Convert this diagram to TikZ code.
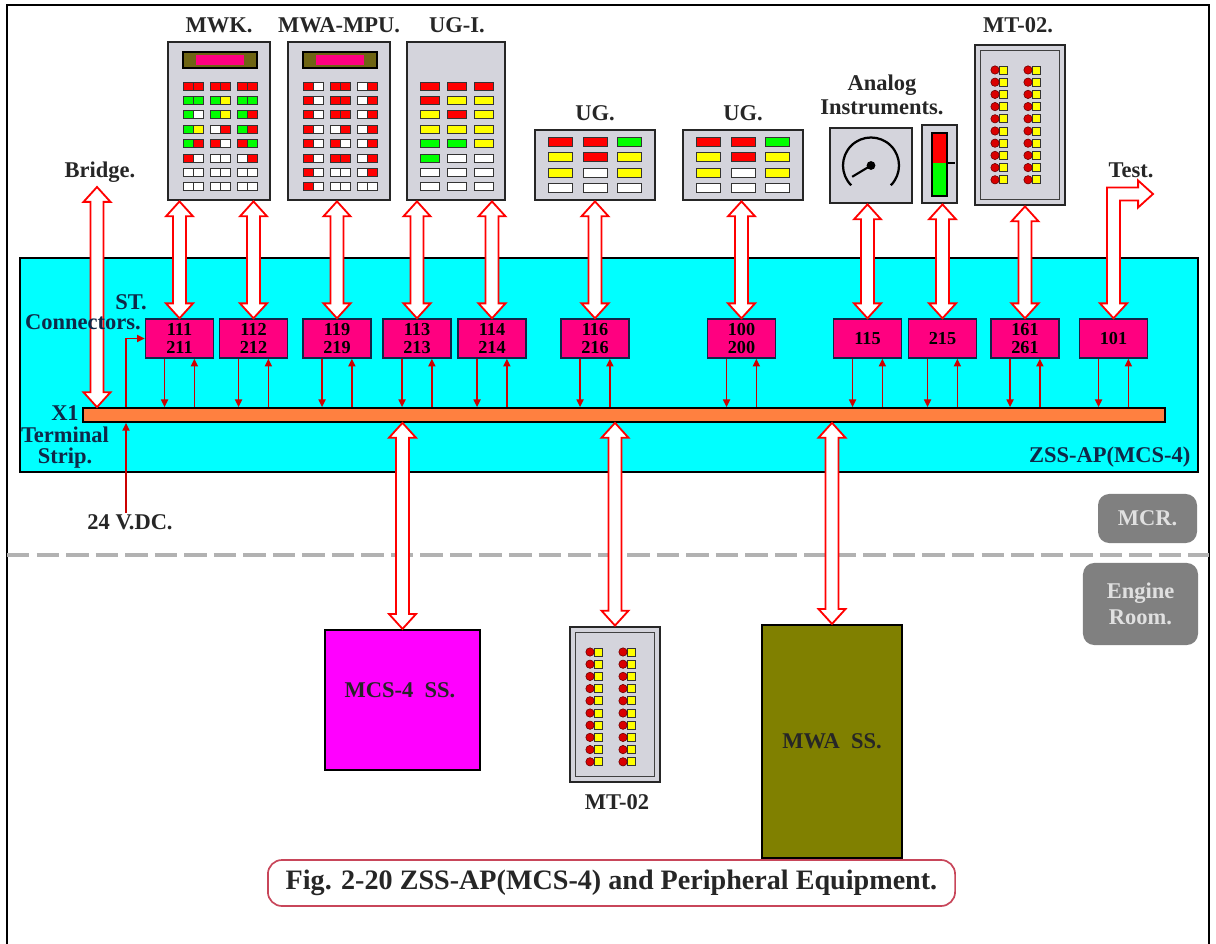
\documentclass[tikz,border=0pt]{standalone}
\usepackage{fontspec}
\setmainfont{Liberation Serif}
\usepackage{xcolor}
\usepackage{tikz}
\usetikzlibrary{calc, arrows.meta}

\definecolor{zsscyan}{RGB}{0,255,255}
\definecolor{stpink}{RGB}{255,0,128}
\definecolor{mcsmagenta}{RGB}{255,0,255}
\definecolor{striporange}{RGB}{255,128,64}
\definecolor{navytext}{RGB}{16,40,72}
\definecolor{olivebox}{RGB}{128,128,0}
\definecolor{dispolive}{RGB}{110,100,20}
\definecolor{roomgray}{RGB}{128,128,128}
\definecolor{panelgray}{RGB}{212,212,220}
\definecolor{capred}{RGB}{200,70,90}
\definecolor{ledR}{RGB}{255,0,0}
\definecolor{ledG}{RGB}{0,255,0}
\definecolor{ledY}{RGB}{255,255,0}
\definecolor{ledW}{RGB}{255,255,255}

\tikzset{
  lbl/.style={font=\bfseries\fontsize{16}{17}\selectfont, text=black!85, inner sep=1pt},
  navylbl/.style={lbl, text=navytext},
  panel/.style={draw=black!85, line width=2pt, fill=panelgray, inner sep=0pt},
  stbox/.style={draw=navytext, line width=1pt, fill=stpink, inner sep=0pt,
    minimum width=1.7cm, minimum height=0.975cm, align=center,
    font=\bfseries\fontsize{13}{13}\selectfont},
  wire/.style={draw=red!80!black, line width=1.2pt, -{Triangle[length=5.5pt,width=5pt]}},
  bus/.style={draw=ledR, fill=white, line width=1.3pt, line join=miter},
  led/.style={draw=black!80, line width=0.5pt},
  room/.style={fill=roomgray, rounded corners=8pt, text=white!88!black, align=center,
    inner sep=0pt, font=\bfseries\fontsize{16}{18}\selectfont},
}

% hollow two-headed bus arrow, upper end first
\newcommand\busarrow[2]{%
  \draw[bus] let \p1=(#1), \p2=(#2) in
    (\x1,\y1) -- (\x1+9.6pt,\y1-10.6pt) -- (\x1+4.6pt,\y1-10.6pt)
    -- (\x1+4.6pt,\y2+10.6pt) -- (\x1+9.6pt,\y2+10.6pt) -- (\x1,\y2)
    -- (\x1-9.6pt,\y2+10.6pt) -- (\x1-4.6pt,\y2+10.6pt)
    -- (\x1-4.6pt,\y1-10.6pt) -- (\x1-9.6pt,\y1-10.6pt) -- cycle;
}

% lamp field: x positions, first row y, row step, width, height, colours row by row
\newcommand\ledgrid[6]{%
  \foreach \row [count=\rw from 0] in {#6} {
    \foreach \clr [count=\kk from 0] in \row {
      \pgfmathsetmacro\cx{{#1}[\kk]}
      \draw[led, fill=led\clr] (\cx,#2+#3*\rw) rectangle ++(#4,#5);
    }
  }
}

% MT-02 lamp pairs: panel left x, first row y
\newcommand\mtleds[2]{%
  \foreach \rw in {0,...,9} {
    \foreach \dx in {20,53} {
      \draw[led, fill=ledY] (#1+\dx+4,#2+12.2*\rw-4) rectangle ++(8,8);
      \draw[fill=ledR!85!black, draw=red!40!black, line width=0.4pt] (#1+\dx,#2+12.2*\rw) circle[radius=4.2];
    }
  }
}

\begin{document}
\begin{tikzpicture}[x=0.025cm, y=-0.025cm]
  \useasboundingbox (0,0) rectangle (1216,944);

  % outer frame
  \draw[line width=1.2pt] (7,944) -- (7,5) -- (1209,5) -- (1209,944);

  % ZSS-AP cabinet and terminal strip
  \node[draw, line width=1.5pt, fill=zsscyan, inner sep=0pt,
    minimum width=29.45cm, minimum height=5.35cm] (zss) at (609,365) {};
  \node[draw, line width=1.2pt, fill=striporange, inner sep=0pt,
    minimum width=27.05cm, minimum height=0.35cm] (x1) at (624,415) {};

  % ST. connectors with their wires to X1
  \foreach \nm/\cx/\txt in {111/179.5/{111\\211}, 112/253.5/{112\\212}, 119/337/{119\\219},
      113/417/{113\\213}, 114/492/{114\\214}, 116/595/{116\\216}, 100/741.5/{100\\200},
      115/867.5/{115}, 215/942.5/{215}, 161/1025/{161\\261}, 101/1113.5/{101}} {
    \node[stbox] (b\nm) at (\cx,338.5) {\txt};
    \draw[wire] ([xshift=-10.6pt]b\nm.south) -- ([xshift=-10.6pt]b\nm.south |- x1.north);
    \draw[wire] ([xshift=10.6pt]b\nm.south |- x1.north) -- ([xshift=10.6pt]b\nm.south);
  }

  % 24 V supply and feed to the connectors
  \node[lbl] (lvdc) at (130,522) {24 V.DC.};
  \coordinate (feed) at (126,0);
  \draw[wire] (feed |- x1.north) |- (b111.west);
  \draw[wire] (feed |- lvdc.north) -- (feed |- x1.south);

  % MCR / engine room border
  \draw[gray!60, line width=2.2pt, dash pattern=on 16pt off 5pt] (7,555) -- (1209,555);
  \node[room, minimum width=2.475cm, minimum height=1.225cm] (mcr) at (1147.5,518.5) {MCR.};
  \node[room, minimum width=2.875cm, minimum height=2.05cm] (engine) at (1140.5,604) {Engine\\Room.};

  % MWK panel
  \node[panel, minimum width=2.55cm, minimum height=3.95cm] (mwk) at (219,121) {};
  \draw[fill=dispolive, line width=1.2pt] (183,52) rectangle (257,68);
  \fill[stpink] (196,55) rectangle (244,65);
  \ledgrid{183,193,210,220,237,247}{82}{14.4}{10}{8}{{R,R,R,R,R,R},{G,G,G,Y,G,G},{G,W,G,Y,G,R},
    {G,Y,W,R,G,R},{G,R,R,W,R,G},{R,W,W,W,W,R},{W,W,W,W,W,W},{W,W,W,W,W,W}}

  % MWA-MPU panel
  \node[panel, minimum width=2.55cm, minimum height=3.95cm] (mwa) at (339,121) {};
  \draw[fill=dispolive, line width=1.2pt] (303,52) rectangle (377,68);
  \fill[stpink] (316,55) rectangle (364,65);
  \ledgrid{303,313,330,340,357,367}{82}{14.4}{10}{8}{{R,W,R,R,W,R},{R,W,R,R,W,R},{R,W,R,R,W,R},
    {R,W,W,R,W,R},{R,W,R,W,W,R},{R,W,R,R,W,R},{R,W,W,W,W,R},{R,W,W,W,W,W}}

  % UG-I panel
  \node[panel, minimum width=2.45cm, minimum height=3.95cm] (ugi) at (456,121) {};
  \ledgrid{420,447,474}{82}{14.4}{19}{8}{{R,R,R},{R,Y,Y},{Y,R,Y},{Y,Y,Y},{G,G,Y},{G,W,W},{W,W,W},{W,W,W}}

  % UG panels
  \node[panel, minimum width=3cm, minimum height=1.75cm] (uga) at (595,165) {};
  \ledgrid{548,583,617}{137}{15.6}{24}{9}{{R,R,G},{Y,R,Y},{Y,W,Y},{W,W,W}}
  \node[panel, minimum width=3cm, minimum height=1.75cm] (ugb) at (743,165) {};
  \ledgrid{696,731,765}{137}{15.6}{24}{9}{{R,R,G},{Y,R,Y},{Y,W,Y},{W,W,W}}

  % analog instruments
  \node[panel, minimum width=2.05cm, minimum height=1.875cm] (gauge) at (871,165.5) {};
  \draw[line width=1.6pt] ([shift={(225:0.7cm)}]gauge.center) arc[start angle=225, end angle=-45, radius=0.7cm];
  \draw[line width=1.5pt] (gauge.center) -- +(211:0.55cm);
  \fill (gauge.center) circle[radius=0.11cm];
  \node[panel, minimum width=0.875cm, minimum height=1.95cm] (bar) at (939.5,164) {};
  \fill[ledR] (932,133) rectangle (947,163);
  \fill[ledG] (932,163) rectangle (947,196);
  \draw[line width=0.8pt] (932,133) rectangle (947,196);
  \draw[line width=1.5pt] (947,163) -- (955,163);

  % MT-02 panels
  \node[panel, minimum width=2.25cm, minimum height=4cm] (mttop) at (1020,125) {};
  \draw[black!75, line width=0.8pt] ($(mttop.north west)+(7,7)$) rectangle ($(mttop.south east)+(-7,-7)$);
  \mtleds{975}{70}
  \node[panel, minimum width=2.25cm, minimum height=3.875cm] (mtbot) at (615,704.5) {};
  \draw[black!75, line width=0.8pt] ($(mtbot.north west)+(7,7)$) rectangle ($(mtbot.south east)+(-7,-7)$);
  \mtleds{570}{652}

  % engine room substations
  \node[draw, line width=1.5pt, fill=mcsmagenta, minimum width=3.875cm, minimum height=3.5cm] (mcs) at (402.5,700) {};
  \node[lbl] (lmcs) at (400,690) {MCS-4~~SS.};
  \node[draw, line width=1.5pt, fill=olivebox, minimum width=3.5cm, minimum height=5.825cm,
    font=\bfseries\fontsize{16}{17}\selectfont, text=black!85] (mwass) at (832,741.5) {MWA~~SS.};

  % bus links
  \coordinate (brg) at (97,187);
  \busarrow{brg}{brg |- x1.north}
  \busarrow{mwk.south -| b111.north}{b111.north}
  \busarrow{mwk.south -| b112.north}{b112.north}
  \busarrow{mwa.south -| b119.north}{b119.north}
  \busarrow{ugi.south -| b113.north}{b113.north}
  \busarrow{ugi.south -| b114.north}{b114.north}
  \busarrow{uga.south -| b116.north}{b116.north}
  \busarrow{ugb.south -| b100.north}{b100.north}
  \busarrow{gauge.south -| b115.north}{b115.north}
  \busarrow{bar.south -| b215.north}{b215.north}
  \busarrow{mttop.south -| b161.north}{b161.north}
  \busarrow{x1.south -| mcs.north}{mcs.north}
  \busarrow{x1.south -| mtbot.north}{mtbot.north}
  \busarrow{x1.south -| mwass.north}{mwass.north}

  % test output, bent upwards and to the right
  \coordinate (tbend) at (1113.5,194);
  \coordinate (ttip) at (1153,194);
  \draw[bus] let \p1=(tbend), \p2=(ttip), \p3=(b101.north) in
    (\x1-4.6pt,\y1+4.6pt) -- (\x2-10.6pt,\y1+4.6pt) -- (\x2-10.6pt,\y1+9.6pt) -- (\x2,\y1)
    -- (\x2-10.6pt,\y1-9.6pt) -- (\x2-10.6pt,\y1-4.6pt) -- (\x1+4.6pt,\y1-4.6pt)
    -- (\x1+4.6pt,\y3+10.6pt) -- (\x1+9.6pt,\y3+10.6pt) -- (\x1,\y3)
    -- (\x1-9.6pt,\y3+10.6pt) -- (\x1-4.6pt,\y3+10.6pt) -- cycle;

  % labels
  \node[lbl] (lbrg) at (100,172) {Bridge.};
  \node[lbl] (lmwk) at (219,25) {MWK.};
  \node[lbl] (lmwa) at (339,25) {MWA-MPU.};
  \node[lbl] (lugi) at (457,25) {UG-I.};
  \node[lbl] (luga) at (595,113) {UG.};
  \node[lbl] (lugb) at (743,113) {UG.};
  \node[lbl, align=center] (lana) at (882,95) {Analog\\Instruments.};
  \node[lbl] (lmt) at (1018,25) {MT-02.};
  \node[lbl] (ltest) at (1131,170) {Test.};
  \node[lbl] (lmtbot) at (617,802) {MT-02};
  \node[navylbl] (lst) at (131,302) {ST.};
  \node[navylbl] (lcon) at (83,322) {Connectors.};
  \node[navylbl, align=center, font=\bfseries\fontsize{16}{15}\selectfont] (lx1) at (65,437) {X1\\Terminal\\Strip.};
  \node[navylbl, anchor=east] (lzss) at (1192,457) {ZSS-AP(MCS-4)};

  % caption
  \node[draw=capred, line width=1.2pt, fill=white, rounded corners=10pt,
    minimum width=17.175cm, minimum height=1.15cm, text=black!85,
    font=\bfseries\fontsize{20}{20}\selectfont] (cap) at (611.5,883)
    {Fig. 2-20 ZSS-AP(MCS-4) and Peripheral Equipment.};
\end{tikzpicture}
\end{document}
